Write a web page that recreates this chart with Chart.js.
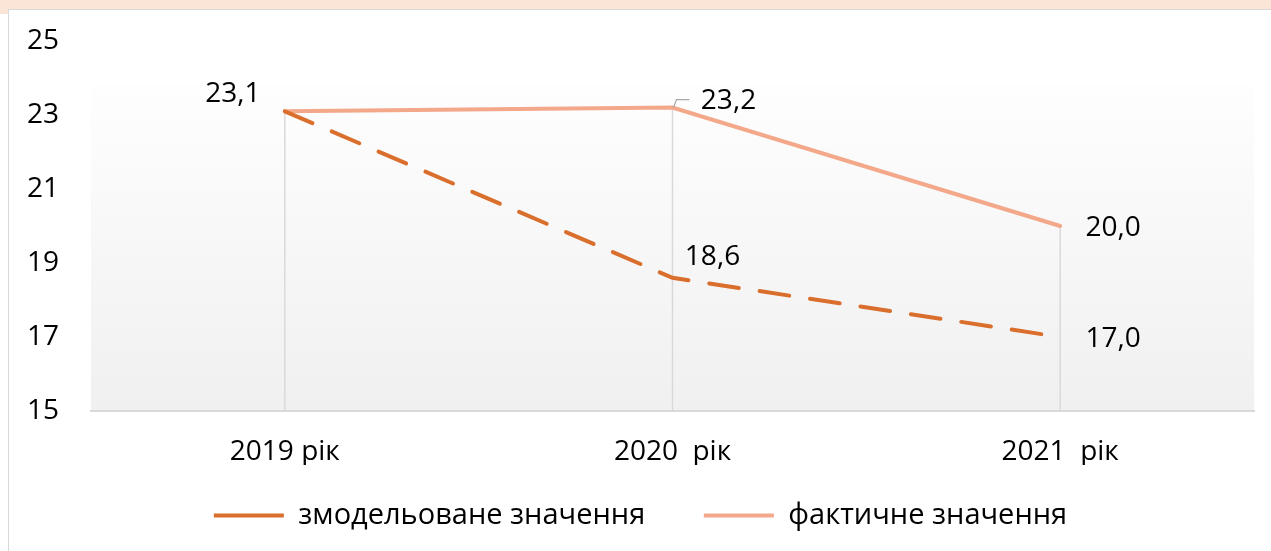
<!DOCTYPE html>
<html><head><meta charset="utf-8">
<script src="https://cdn.jsdelivr.net/npm/chart.js@4.4.1/dist/chart.umd.min.js"></script>
<style>
html,body{margin:0;padding:0;background:#fff;width:1271px;height:551px;overflow:hidden;}
#band{position:absolute;left:0;top:0;width:1271px;height:9px;background:#FBE5D6;}
#tab{position:absolute;left:0;top:0;width:8px;height:14px;background:#FBE5D6;}
#card{position:absolute;left:8px;top:9px;width:1263px;height:542px;border-top:1px solid #d9d9d9;border-left:1.5px solid #d9d9d9;box-sizing:border-box;background:#fff;}
#wrap{position:absolute;left:9px;top:10px;width:1262px;height:541px;}
</style></head>
<body>
<div id="band"></div><div id="tab"></div><div id="card"></div>
<div id="wrap"><canvas id="c"></canvas></div>
<script>
const categories = ['2019 рік', '2020  рік', '2021  рік'];
const seriesNames = ['змодельоване значення', 'фактичне значення'];
const modeledValues = [23.1, 18.6, 17.0];
const actualValues = [23.1, 23.2, 20.0];
const yTicks = [15, 17, 19, 21, 23, 25];

const FONT = "'Open Sans', 'Liberation Sans', sans-serif";
const fmt = v => v.toFixed(1).replace('.', ',');

// label offsets (style): [datasetIndex][pointIndex] -> [dx, dy] or null
const labelOffsets = [
  [null, [40, -21], [53, 2]],
  [[-52, -17], [56, -7], [53, 2]]
];

const bgPlugin = {
  id: 'bg',
  beforeDraw(chart) {
    const {ctx, chartArea: a} = chart;
    const top = a.top + (a.bottom - a.top) * 0.12;
    const g = ctx.createLinearGradient(0, top, 0, a.bottom);
    g.addColorStop(0, '#fefefe');
    g.addColorStop(1, '#f0f0f0');
    ctx.save();
    ctx.fillStyle = g;
    ctx.fillRect(a.left, top, a.right - a.left, a.bottom - top);
    ctx.restore();
  }
};

const dropPlugin = {
  id: 'drop',
  beforeDatasetsDraw(chart) {
    const {ctx, chartArea: a, scales: {x, y}} = chart;
    ctx.save();
    ctx.strokeStyle = '#d9d9d9';
    ctx.lineWidth = 1.5;
    categories.forEach((c, i) => {
      const m = Math.max(...chart.data.datasets.map(d => d.data[i]));
      const px = x.getPixelForValue(i);
      ctx.beginPath();
      ctx.moveTo(px, y.getPixelForValue(m));
      ctx.lineTo(px, a.bottom);
      ctx.stroke();
    });
    ctx.restore();
  }
};

const labelPlugin = {
  id: 'lbls',
  afterDatasetsDraw(chart) {
    const {ctx} = chart;
    ctx.save();
    ctx.font = '28px ' + FONT;
    ctx.fillStyle = '#000';
    ctx.textAlign = 'center';
    ctx.textBaseline = 'middle';
    chart.data.datasets.forEach((ds, di) => {
      const meta = chart.getDatasetMeta(di);
      ds.data.forEach((v, i) => {
        const off = labelOffsets[di][i];
        if (!off) return;
        const p = meta.data[i];
        ctx.fillText(fmt(v), p.x + off[0], p.y + off[1]);
      });
    });
    // leader line for actual 2020
    const p = chart.getDatasetMeta(1).data[1];
    ctx.strokeStyle = '#a6a6a6';
    ctx.lineWidth = 1.2;
    ctx.beginPath();
    ctx.moveTo(p.x + 1, p.y);
    ctx.lineTo(p.x + 4, p.y - 8);
    ctx.lineTo(p.x + 17, p.y - 8);
    ctx.stroke();
    ctx.restore();
  }
};

new Chart(document.getElementById('c'), {
  type: 'line',
  data: {
    labels: categories,
    datasets: [
      {
        label: seriesNames[0],
        data: modeledValues,
        borderColor: '#DA6E2C',
        backgroundColor: '#DA6E2C',
        borderWidth: 4,
        borderDash: [30, 21],
        borderCapStyle: 'round',
        pointRadius: 0,
        tension: 0
      },
      {
        label: seriesNames[1],
        data: actualValues,
        borderColor: '#F3A88A',
        backgroundColor: '#F3A88A',
        borderWidth: 4,
        borderCapStyle: 'round',
        pointRadius: 0,
        tension: 0
      }
    ]
  },
  options: {
    responsive: true,
    maintainAspectRatio: false,
    animation: false,
    layout: {padding: {left: 18, right: 17, top: 31, bottom: 11}},
    plugins: {
      tooltip: {enabled: false},
      legend: {
        position: 'bottom',
        labels: {
          usePointStyle: true,
          pointStyle: 'line',
          pointStyleWidth: 70,
          padding: 36,
          color: '#000',
          font: {family: FONT, size: 29},
          generateLabels(chart) {
            const items = Chart.defaults.plugins.legend.labels.generateLabels(chart);
            items.forEach((it, i) => { if (i < items.length - 1) it.text += '   '; });
            return items;
          }
        }
      }
    },
    scales: {
      x: {
        offset: true,
        grid: {display: false, drawTicks: false, offset: true},
        border: {display: true, color: '#d9d9d9', width: 2},
        ticks: {color: '#000', font: {family: FONT, size: 28}, padding: 24, maxRotation: 0},
        afterFit(s) { s.height = 54; }
      },
      y: {
        min: 15, max: 25,
        grid: {display: false, drawTicks: false},
        border: {display: false},
        afterBuildTicks(s) { s.ticks = yTicks.map(v => ({value: v})); },
        ticks: {color: '#000', font: {family: FONT, size: 28}, crossAlign: 'far', padding: 0},
        afterFit(s) { s.width = 64; }
      }
    }
  },
  plugins: [bgPlugin, dropPlugin, labelPlugin]
});
</script>
</body></html>
